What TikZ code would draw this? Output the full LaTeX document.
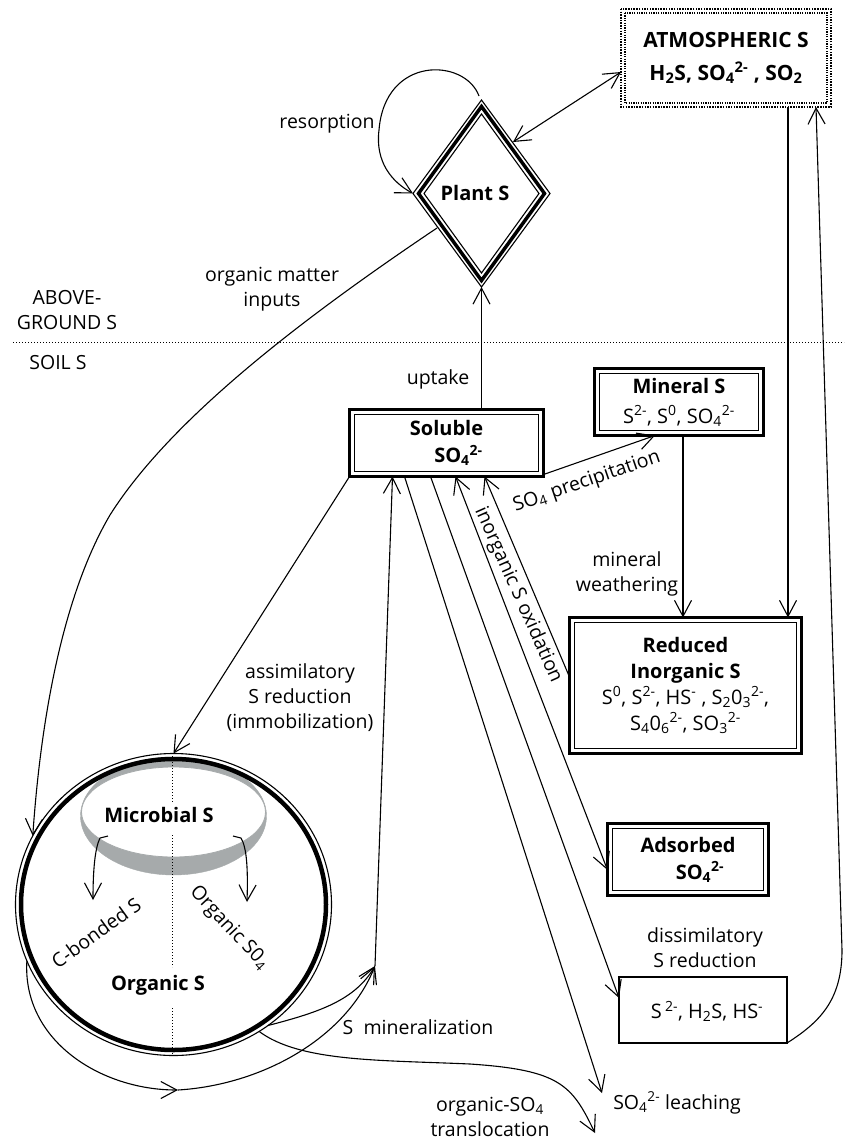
\documentclass[tikz,border=0pt]{standalone}
\usepackage{fontspec}
\setmainfont{Open Sans}
\usetikzlibrary{arrows.meta,shapes.geometric,calc}
\definecolor{diskgray}{RGB}{166,170,171}
\begin{document}
\begin{tikzpicture}[x=1pt,y=-1pt,
  >={Straight Barb[length=16pt,width=17pt]},
  every node/.style={inner sep=0pt, outer sep=0pt},
  lbl/.style={font=\fontsize{19.5}{25}\selectfont, align=center},
  ttl/.style={font=\fontsize{20}{27}\selectfont, align=center},
  bttl/.style={font=\fontsize{20}{27}\selectfont\bfseries, align=center},
  conn/.style={line width=1.1pt},
  thickbox/.style={draw, line width=3pt},
  innerline/.style={line width=1.1pt},
  sep/.style={line width=1pt, dash pattern=on 1pt off 2pt}
]
\fill[white] (0,0) rectangle (844,1140);
\path[use as bounding box] (0,0) rectangle (844,1140);

% separator
\draw[sep] (13,342) -- (844,342);
\node[lbl] (lag) at (67,310) {ABOVE-\\GROUND S};
\node[lbl] (lsoil) at (58,363) {SOIL S};

% atmospheric
\node[font=\fontsize{21}{33}\selectfont\bfseries, align=center, minimum width=210pt, minimum height=98pt] (atm) at (726,58)
  {ATMOSPHERIC S\\ H\textsubscript{2}S, SO\textsubscript{4}\textsuperscript{2-} , SO\textsubscript{2}};
\draw[line width=1.8pt, dash pattern=on 1.5pt off 1.2pt] (atm.north west) rectangle (atm.south east);
\draw[line width=1.2pt, dash pattern=on 1.2pt off 1.2pt] ([xshift=4pt,yshift=-4pt]atm.north west) rectangle ([xshift=-4pt,yshift=4pt]atm.south east);

% plant diamond
\draw[line width=1.1pt] (481.5,100) -- (550,193.5) -- (481.5,287) -- (413,193.5) -- cycle;
\draw[line width=3.5pt] (481.5,106.5) -- (544.5,193.5) -- (481.5,280.5) -- (418.5,193.5) -- cycle;
\draw[line width=1.1pt] (481.5,114) -- (539,193.5) -- (481.5,273) -- (424,193.5) -- cycle;
\node[bttl] (plant) at (475,193) {Plant S};
\coordinate (plantTop) at (479,96);
\coordinate (plantLeft) at (413,193.5);
\coordinate (plantBot) at (481.5,287);
\coordinate (plantNE) at (513,142);
\coordinate (plantSW) at (437,228);

% boxes
\node[thickbox, ttl, minimum width=194pt, minimum height=67pt] (sol) at (446.5,443)
  {\textbf{Soluble}\\\hspace*{24pt}\textbf{SO\textsubscript{4}\textsuperscript{2-}}};
\draw[innerline] ([xshift=5pt,yshift=-5pt]sol.north west) rectangle ([xshift=-5pt,yshift=5pt]sol.south east);

\node[thickbox, ttl, font=\fontsize{20}{30}\selectfont, minimum width=169pt, minimum height=67pt] (min) at (679,402)
  {\textbf{Mineral S}\\S\textsuperscript{2-}, S\textsuperscript{0}, SO\textsubscript{4}\textsuperscript{2-}};
\draw[innerline] ([xshift=5pt,yshift=-5pt]min.north west) rectangle ([xshift=-5pt,yshift=5pt]min.south east);

\node[thickbox, ttl, font=\fontsize{20}{26}\selectfont, minimum width=232pt, minimum height=136pt] (red) at (685.5,685.5)
  {\textbf{Reduced}\\\textbf{Inorganic S}\\S\textsuperscript{0}, S\textsuperscript{2-}, HS\textsuperscript{-} , S\textsubscript{2}0\textsubscript{3}\textsuperscript{2-},\\S\textsubscript{4}0\textsubscript{6}\textsuperscript{2-}, SO\textsubscript{3}\textsuperscript{2-}};
\draw[innerline] ([xshift=5pt,yshift=-5pt]red.north west) rectangle ([xshift=-5pt,yshift=5pt]red.south east);

\node[thickbox, ttl, minimum width=161pt, minimum height=72pt] (ads) at (688,859.5)
  {\textbf{Adsorbed}\\\hspace*{24pt}\textbf{SO\textsubscript{4}\textsuperscript{2-}}};
\draw[innerline] ([xshift=5pt,yshift=-5pt]ads.north west) rectangle ([xshift=-5pt,yshift=5pt]ads.south east);

\node[draw, line width=1.5pt, ttl, minimum width=168pt, minimum height=66pt, text depth=0pt] (dis) at (703,1010)
  {\hspace*{8pt}S\,\textsuperscript{2-}, H\textsubscript{2}S, HS\textsuperscript{-}};

% organic S circle
\filldraw[fill=diskgray, draw=diskgray] (173.5,816) ellipse [x radius=93pt, y radius=59pt];
\filldraw[fill=white, draw=diskgray, line width=0.8pt] (173.5,812) ellipse [x radius=92pt, y radius=45pt];
\node[ellipse, draw, line width=1.1pt, minimum width=316pt, minimum height=302pt] (org) at (173.5,904.5) {};
\draw[line width=4.5pt] (org.center) ellipse [x radius=152.5pt, y radius=145.5pt];
\draw[sep] (172.5,756) -- (172.5,802);
\draw[sep] (172.5,835) -- (172.5,967);
\draw[sep] (172.5,1008) -- (172.5,1054);
\node[bttl] (mic) at (159,815) {Microbial S};
\node[bttl] (orgs) at (158,985) {Organic S};
\node[lbl, rotate=36] (lcb) at (96,933) {C-bonded S};
\node[lbl, rotate=-47] (los) at (229,928) {Organic S0\textsubscript{4}};
\coordinate (mlA) at (108,836);
\coordinate (mlB) at (93,900);
\coordinate (mrA) at (233,836);
\coordinate (mrB) at (247,902);
\draw[conn,->] (mlA) -- (100,838) .. controls (95,848) and (93,870) .. (mlB);
\draw[conn,->] (mrA) -- (241,838) .. controls (247,848) and (248,870) .. (mrB);

% coordinates
\coordinate (mj) at (375,966);
\coordinate (ajoin) at (178,1090);
\coordinate (leach) at (602,1093);
\coordinate (trans) at (595,1133);

% connectors
\draw[conn,->] (sol.north -| plantBot) -- (plantBot);
\draw[conn,<->] (plantNE) -- ([yshift=-14pt]atm.west);
\draw[conn,->] (plantTop) .. controls (465,58) and (385,55) .. (379,130) .. controls (375,162) and (392,182) .. (plantLeft);
\draw[conn,->] (plantSW) .. controls (300,320) and (170,420) .. (110,515) .. controls (60,600) and (40,730) .. (org.154);
\draw[conn,->] ([xshift=62pt]atm.south) -- ([xshift=102.5pt]red.north);
\draw[conn,->] ([xshift=4pt]min.south) -- ([xshift=-2.5pt]red.north);
\draw[conn,->] ([yshift=2pt]sol.south east) -- ([xshift=-24pt]min.south);
\draw[conn,->] (sol.south west) -- (org.north);
\draw[conn,->] ([xshift=55pt]sol.south west) -- (leach);
\draw[conn,->] ([xshift=81pt]sol.south west) -- ([yshift=12pt]dis.west);
\draw[conn,<->] ([xshift=106pt]sol.south west) -- ([yshift=-10.5pt]ads.west);
\draw[conn,->] ([yshift=8.5pt]red.west) -- ([xshift=135pt]sol.south west);
\draw[conn,->] (mj) -- ([xshift=43pt]sol.south west);
\draw[conn,->] (org.201) .. controls (22,1040) and (100,1090) .. (ajoin);
\draw[conn,->] (ajoin) .. controls (260,1085) and (345,1040) .. (mj);
\draw[conn,->] (org.-52) .. controls (320,1012) and (355,1000) .. (mj);
\draw[conn,->] (org.-56) .. controls (300,1062) and (380,1060) .. (470,1064) .. controls (560,1070) and (572,1085) .. (trans);
\draw[conn,->] (dis.south east) .. controls (820,1022) and (842,1000) .. (842,950) -- ([xshift=90pt]atm.south);

% labels
\node[lbl] (lres) at (327,124) {resorption};
\node[lbl] (lom) at (272,289) {organic matter\\inputs};
\node[lbl] (lup) at (438,379) {uptake};
\node[lbl, rotate=19] (lprec) at (587,482) {SO\textsubscript{4} precipitation};
\node[lbl, rotate=-66] (lox) at (518,595) {inorganic S oxidation};
\node[lbl] (lmw) at (627,574) {mineral\\weathering};
\node[lbl] (las) at (300,698) {assimilatory\\S reduction\\(immobilization)};
\node[lbl] (ldis) at (705,948) {dissimilatory\\S reduction};
\node[lbl] (lmin) at (418,1027) {S~~mineralization};
\node[lbl] (ltr) at (490,1117) {organic-SO\textsubscript{4}\\translocation};
\node[lbl] (lleach) at (677,1103) {SO\textsubscript{4}\textsuperscript{2-} leaching};
\end{tikzpicture}
\end{document}
